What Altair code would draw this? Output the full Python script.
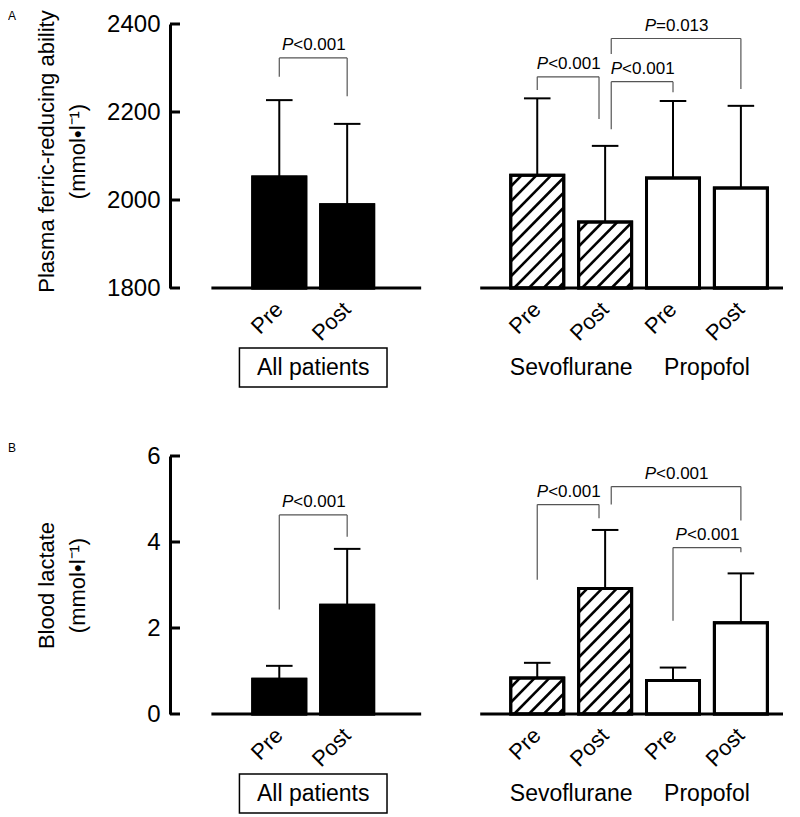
import altair as alt
import pandas as pd

# ---------------- data ----------------
conditions = ["Pre", "Post", "Pre", "Post", "Pre", "Post"]
groups = ["All patients", "All patients", "Sevoflurane", "Sevoflurane", "Propofol", "Propofol"]

frap_mean = [2052, 1989, 2056, 1950, 2050, 2027]
frap_sd = [175, 184, 175, 173, 175, 187]

lact_mean = [0.81, 2.53, 0.84, 2.92, 0.78, 2.12]
lact_sd = [0.31, 1.31, 0.35, 1.36, 0.30, 1.15]

# significance brackets: bar indices, label, bracket top, left leg end, right leg end
frap_br_from = [0, 2, 3, 3]
frap_br_to = [1, 3, 4, 5]
frap_br_label = ["<0.001", "<0.001", "<0.001", "=0.013"]
frap_br_top = [2323, 2280, 2269, 2367]
frap_br_left = [2280, 2250, 2161, 2332]
frap_br_right = [2236, 2184, 2245, 2252]

lact_br_from = [0, 2, 3, 4]
lact_br_to = [1, 3, 5, 5]
lact_br_label = ["<0.001", "<0.001", "<0.001", "<0.001"]
lact_br_top = [4.63, 4.87, 5.29, 3.87]
lact_br_left = [2.43, 3.12, 4.87, 2.17]
lact_br_right = [4.12, 4.55, 4.50, 3.76]

frap_ticks = [1800, 2000, 2200, 2400]
lact_ticks = [0, 2, 4, 6]

# ---------------- layout ----------------
FONT = "Liberation Sans"
SLOT = 69.0            # px per bar slot
PLOT_W = 618
X0 = -106.0 / SLOT
X1 = X0 + PLOT_W / SLOT
group_start = {"All patients": 0.0, "Sevoflurane": 3.8, "Propofol": 5.8}
positions = [group_start[g] + (0 if c == "Pre" else 1) for g, c in zip(groups, conditions)]
baseline_segments = [(-1.0, 2.09), (2.96, X1)]
BAR_PX = 53.0
CAP_HALF = 13.5 / SLOT
NUDGE = 0.09

xscale = alt.Scale(domain=[X0, X1], nice=False, zero=False)


def make_row(means, sds, br_from, br_to, br_label, br_top, br_left, br_right,
             base, top, ticks, title, letter, H, title_shift):
    K = H / (top - base)
    yscale = alt.Scale(domain=[base, top], nice=False, zero=False)
    yaxis = alt.Axis(values=ticks, title=title, titleFont=FONT, titleFontSize=22,
                     titleFontWeight="normal", titleColor="black", titleX=-124,
                     titleY=H / 2 + title_shift,
                     titleAngle=270, titleAlign="center", titleBaseline="middle",
                     titleLineHeight=31, labelFont=FONT, labelFontSize=24, labelColor="black",
                     labelPadding=10, ticks=False, tickSize=0, domainColor="black",
                     domainWidth=3, grid=False, format="d", labelFlush=False)

    def Y(f):
        return alt.Y(f, type="quantitative", scale=yscale, axis=yaxis)

    def X(f):
        return alt.X(f, type="quantitative", scale=xscale, axis=None)

    bars = pd.DataFrame({
        "x": positions, "group": groups, "cond": conditions,
        "mean": means, "hi": [m + s for m, s in zip(means, sds)], "base": base,
    })
    bars["xl"] = bars["x"] - CAP_HALF
    bars["xr"] = bars["x"] + CAP_HALF

    # hatch lines inside Sevoflurane bars (45 degrees on screen)
    hrows = []
    step = 15.0
    for _, r in bars[bars["group"] == "Sevoflurane"].iterrows():
        hpx = (r["mean"] - base) * K
        c = -BAR_PX + 5
        while c < hpx:
            u0 = max(0.0, -c)
            u1 = min(BAR_PX, hpx - c)
            if u1 > u0:
                hrows.append({"xa": r["x"] + (u0 - BAR_PX / 2) / SLOT,
                              "xb": r["x"] + (u1 - BAR_PX / 2) / SLOT,
                              "ya": base + (u0 + c) / K, "yb": base + (u1 + c) / K})
            c += step
    hatch = pd.DataFrame(hrows)

    # bracket segments
    srows, trows = [], []
    shared = [i for i in range(6) if (br_from + br_to).count(i) > 1]
    for f, t, lab, tp, lb, rb in zip(br_from, br_to, br_label, br_top, br_left, br_right):
        xa = positions[f] + (NUDGE if f in shared and br_to.count(f) else 0)
        xb = positions[t] - (NUDGE if t in shared and br_from.count(t) else 0)
        srows.append({"xa": xa, "xb": xb, "ya": tp, "yb": tp})
        srows.append({"xa": xa, "xb": xa, "ya": tp, "yb": lb})
        srows.append({"xa": xb, "xb": xb, "ya": tp, "yb": rb})
        trows.append({"xc": (xa + xb) / 2, "y": tp, "label": lab, "p": "P"})
    segs = pd.DataFrame(srows)
    ptext = pd.DataFrame(trows)

    base_df = pd.DataFrame({"xa": [s[0] for s in baseline_segments],
                            "xb": [s[1] for s in baseline_segments], "y": base})
    tick_df = pd.DataFrame({"t": ticks})
    grp_df = pd.DataFrame({"g": ["All patients", "Sevoflurane", "Propofol"],
                           "xc": [0.5, 4.3, 6.3]})
    box_df = pd.DataFrame({"xa": [0.5 - 75 / SLOT], "xb": [0.5 + 75 / SLOT]})

    fill = alt.Fill("group:N", scale=alt.Scale(domain=["All patients", "Sevoflurane", "Propofol"],
                                                range=["black", "white", "white"]), legend=None)

    layers = [
        alt.Chart(bars).mark_bar(size=BAR_PX, stroke="black", strokeWidth=3).encode(
            x=X("x"), y=Y("mean"), y2="base", fill=fill),
        alt.Chart(hatch).mark_rule(color="black", strokeWidth=2.5).encode(
            x=X("xa"), x2="xb", y=Y("ya"), y2="yb"),
        alt.Chart(bars).mark_bar(size=BAR_PX, stroke="black", strokeWidth=3, fillOpacity=0).encode(
            x=X("x"), y=Y("mean"), y2="base"),
        alt.Chart(bars).mark_rule(color="black", strokeWidth=2).encode(
            x=X("x"), y=Y("mean"), y2="hi"),
        alt.Chart(bars).mark_rule(color="black", strokeWidth=2).encode(
            x=X("xl"), x2="xr", y=Y("hi")),
        alt.Chart(base_df).mark_rule(color="black", strokeWidth=3).encode(
            x=X("xa"), x2="xb", y=Y("y")),
        alt.Chart(tick_df).mark_rule(color="black", strokeWidth=3).encode(
            y=Y("t"), x=alt.value(0), x2=alt.value(10)),
        alt.Chart(segs).mark_rule(color="#555555", strokeWidth=1.2).encode(
            x=X("xa"), x2="xb", y=Y("ya"), y2="yb"),
        alt.Chart(ptext).mark_text(font=FONT, fontSize=17, fontStyle="italic", align="right",
                                   baseline="alphabetic", dx=-20, dy=-8, color="black").encode(
            x=X("xc"), y=Y("y"), text="p:N"),
        alt.Chart(ptext).mark_text(font=FONT, fontSize=17, align="left",
                                   baseline="alphabetic", dx=-20, dy=-8, color="black").encode(
            x=X("xc"), y=Y("y"), text="label:N"),
        alt.Chart(bars).mark_text(font=FONT, fontSize=22, angle=315, align="right",
                                  baseline="middle", color="black").encode(
            x=X("x"), y=alt.value(H + 18), text="cond:N"),
        alt.Chart(grp_df).mark_text(font=FONT, fontSize=23, baseline="middle", color="black").encode(
            x=X("xc"), y=alt.value(H + 80), text="g:N"),
        alt.Chart(box_df).mark_rect(fillOpacity=0, stroke="black", strokeWidth=1.5).encode(
            x=X("xa"), x2="xb", y=alt.value(H + 60), y2=alt.value(H + 99)),
        alt.Chart(pd.DataFrame({"l": [letter]})).mark_text(
            font=FONT, fontSize=12, align="left", baseline="middle", color="black").encode(
            x=alt.value(-162), y=alt.value(-8), text="l:N"),
    ]
    return alt.layer(*layers).properties(width=PLOT_W, height=H)


rowA = make_row(frap_mean, frap_sd, frap_br_from, frap_br_to, frap_br_label, frap_br_top,
                frap_br_left, frap_br_right, 1800, 2400, frap_ticks,
                ["Plasma ferric-reducing ability", "(mmol\u2022l\u207b\u00b9)"], "A", 264, -5)
rowB = make_row(lact_mean, lact_sd, lact_br_from, lact_br_to, lact_br_label, lact_br_top,
                lact_br_left, lact_br_right, 0, 6, lact_ticks,
                ["Blood lactate", "(mmol\u2022l\u207b\u00b9)"], "B", 258, 0)

chart = alt.vconcat(rowA, rowB, spacing=54).properties(
    padding={"left": 0, "top": 1, "right": 0, "bottom": 0}
).configure(font=FONT).configure_view(stroke=None)

chart.save("out.html", embed_options={"renderer": "svg", "actions": False})
